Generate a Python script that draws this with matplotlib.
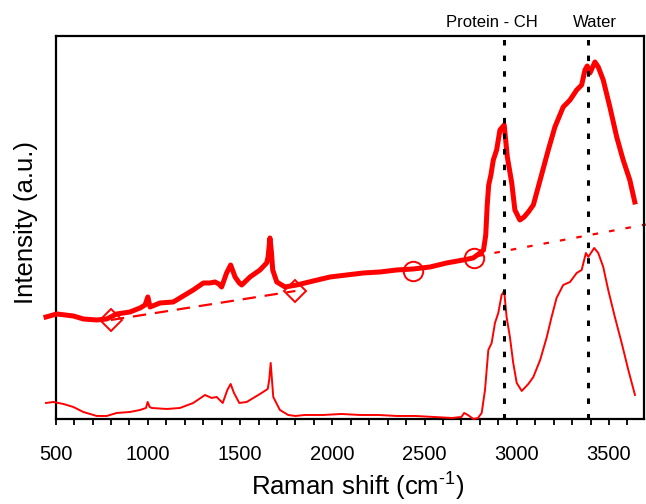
import matplotlib
matplotlib.use("Agg")
import matplotlib.pyplot as plt
import matplotlib.transforms as mtransforms
import numpy as np

plt.rcParams['font.family'] = ['Liberation Sans', 'DejaVu Sans']
plt.rcParams['mathtext.fontset'] = 'custom'
plt.rcParams['mathtext.rm'] = 'Liberation Sans'
plt.rcParams['mathtext.default'] = 'regular'

# Raman shift (cm-1) and intensity (a.u.) of the raw spectrum (upper, thick)
raw_x = [448, 506, 596, 650, 723, 777, 831, 903, 958, 985, 1000, 1012, 1066, 1138,
         1192, 1246, 1301, 1337, 1364, 1385, 1400, 1427, 1449, 1473, 1496, 1509,
         1554, 1608, 1644, 1652, 1662, 1670, 1677, 1699, 1744, 1807, 1897, 1988,
         2078, 2168, 2259, 2349, 2439, 2530, 2620, 2710, 2764, 2801, 2820, 2832,
         2840, 2848, 2860, 2873, 2891, 2909, 2932, 2949, 2973, 2990, 3017, 3040,
         3063, 3090, 3127, 3171, 3207, 3252, 3289, 3325, 3352, 3370, 3382, 3397,
         3424, 3442, 3469, 3505, 3542, 3577, 3613, 3640]
raw_y = [103, 106, 104, 101, 100, 101, 106, 108, 112, 115, 123, 113, 117, 118,
         124, 130, 137, 137, 138, 136, 133, 147, 155, 143, 137, 135,
         143, 150, 157, 163, 182, 168, 150, 138, 133, 135, 139, 143,
         145, 147, 148, 150, 151, 153, 157, 160, 162, 167, 170, 185,
         215, 235, 245, 260, 270, 290, 295, 263, 237, 210, 200, 203,
         208, 215, 240, 270, 293, 313, 320, 330, 335, 350, 354, 347,
         358, 353, 340, 313, 283, 260, 240, 218]

# Baseline-corrected spectrum (lower, thin)
corr_x = [448, 488, 542, 596, 650, 723, 777, 831, 903, 958, 990, 999, 1010, 1021,
          1102, 1174, 1246, 1310, 1346, 1373, 1406, 1431, 1449, 1467, 1496, 1536,
          1608, 1650, 1658, 1666, 1673, 1680, 1716, 1761, 1800, 1850, 1950, 2050,
          2150, 2250, 2350, 2450, 2550, 2650, 2700, 2715, 2735, 2765, 2790, 2810,
          2828, 2846, 2864, 2882, 2900, 2918, 2932, 2945, 2963, 2981, 3000, 3027,
          3063, 3090, 3127, 3163, 3189, 3216, 3252, 3289, 3325, 3352, 3375, 3388,
          3420, 3442, 3469, 3496, 3532, 3569, 3605, 3641]
corr_y = [17, 18, 16, 13, 8, 4, 4, 7, 8, 10, 12, 18, 13, 12,
          11, 12, 17, 25, 22, 23, 17, 30, 36, 27, 17, 18,
          26, 31, 40, 57, 40, 23, 10, 5, 4, 5, 5, 6,
          5, 5, 4, 4, 3, 2, 3, 7, 5, 1, 2, 7,
          30, 70, 77, 97, 107, 125, 129, 103, 83, 57, 37, 29,
          36, 43, 60, 83, 103, 122, 135, 138, 147, 150, 167, 163,
          172, 167, 153, 130, 103, 77, 50, 25]

# Baseline anchor points and fitted baseline segments
diamond_x = [800, 1800]
diamond_y = [100, 129]
circle_x = [2440, 2770]
circle_y = [149, 162]
dashed_x = [800, 1800]
dashed_y = [100, 129]
dotted_x = [2790, 3700]
dotted_y = [164, 195.5]

# Band positions
band_x = [2932, 3388]
band_labels = ['Protein - CH', 'Water']
band_label_x = [2864, 3422]

fig = plt.figure(figsize=(6.46, 5.04), dpi=100)
ax = fig.add_axes([0.0861, 0.1687, 0.9108, 0.7599])
red = '#ff0000'

ax.plot(raw_x, raw_y, color=red, lw=3.6, clip_on=False, solid_joinstyle='round', zorder=3)
ax.plot(corr_x, corr_y, color=red, lw=1.4, clip_on=False, zorder=3)
ax.plot(dashed_x, dashed_y, color=red, lw=1.6, dashes=(6, 4), zorder=2)
ax.plot(dotted_x, dotted_y, color=red, lw=1.6, dashes=(2.5, 5), clip_on=False, zorder=2)
ax.plot(diamond_x, diamond_y, ls='none', marker='D', ms=11.5, mfc='none', mec=red, mew=1.4, zorder=4)
ax.plot(circle_x, circle_y, ls='none', marker='o', ms=14, mfc='none', mec=red, mew=1.4, zorder=4)

for bx in band_x:
    ax.axvline(bx, color='black', lw=2.2, dashes=(1.8, 3.3), zorder=5)

trans = mtransforms.blended_transform_factory(ax.transData, ax.transAxes)
for lx, lab in zip(band_label_x, band_labels):
    ax.text(lx, 1.036, lab, transform=trans, ha='center', va='center', fontsize=12)

ax.set_xlim(500, 3690)
ax.set_ylim(1, 384)
ax.set_xticks([500, 1000, 1500, 2000, 2500, 3000, 3500])
ax.set_xticks(np.arange(600, 3700, 100), minor=True)
ax.set_yticks([])
ax.tick_params(axis='x', which='both', direction='out', length=4.5, width=1.3, pad=14, labelsize=14.5)
for s in ax.spines.values():
    s.set_linewidth(1.6)

ax.set_xlabel('Raman shift (cm$^{\\text{-}1}$)', fontsize=18.5)
ax.set_ylabel('Intensity (a.u.)', fontsize=18.5)
ax.xaxis.set_label_coords(0.514, -0.135)
ax.yaxis.set_label_coords(-0.03, 0.512)

fig.savefig('out.png', dpi=100)
